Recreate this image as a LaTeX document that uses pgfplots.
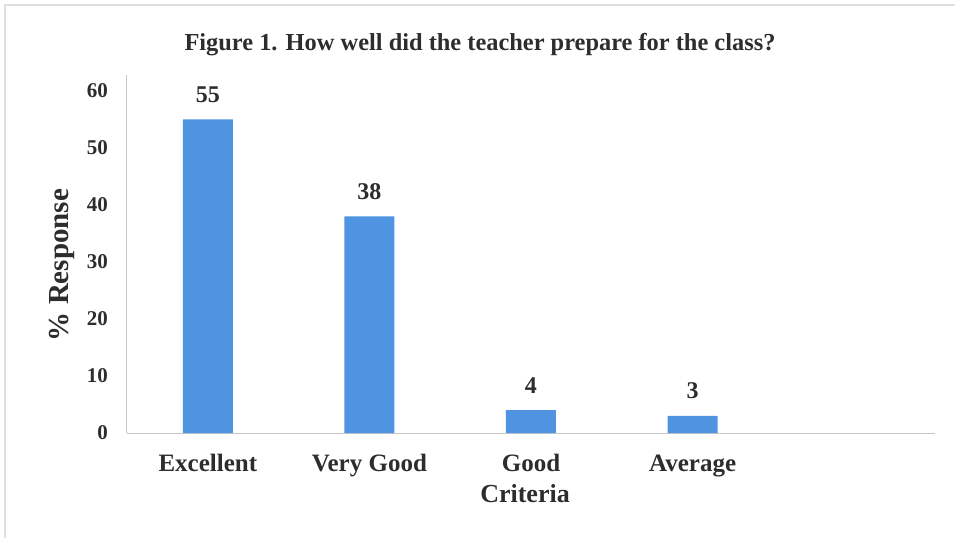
\documentclass[border=0pt]{standalone}
\usepackage{pgfplots}
\pgfplotsset{compat=1.18}
\usepackage{fontspec}
\setmainfont{Liberation Serif}
\definecolor{barblue}{RGB}{79,148,224}
\definecolor{txt}{RGB}{45,45,45}
\begin{document}
\begin{tikzpicture}
\path[use as bounding box] (-63.5pt,-52pt) rectangle (414pt,216.5pt);
\draw[gray!25, line width=0.6pt] (-61pt,-56pt) rectangle (418pt,214pt);
\begin{axis}[
  at={(0pt,0pt)}, anchor=south west,
  scale only axis, width=404pt, height=179pt,
  xmin=-0.5, xmax=4.5, ymin=0, ymax=62.8,
  axis x line=bottom, axis y line=left,
  axis line style={gray!45, line width=0.5pt, -},
  xtick={0,1,2,3}, xticklabels={Excellent,Very Good,Good,Average},
  ytick={0,10,20,30,40,50,60},
  major tick length=0pt,
  tick label style={font=\fontsize{10.5}{12}\selectfont\bfseries, text=txt},
  /pgf/number format/assume math mode=true,
  xticklabel style={font=\fontsize{12.5}{14}\selectfont\bfseries, anchor=base, yshift=-19pt},
  yticklabel style={xshift=-6pt},
  ylabel={\% Response},
  ylabel style={font=\fontsize{14.5}{16}\selectfont\bfseries, text=txt, at={(axis description cs:-0.0804,0.469)}, anchor=center},
  xlabel={Criteria},
  xlabel style={font=\fontsize{13}{15}\selectfont\bfseries, text=txt, at={(axis description cs:0.4926,-0.17)}, anchor=center},
  ybar, bar width=25pt,
  nodes near coords,
  nodes near coords style={font=\fontsize{12}{14}\selectfont\bfseries, text=txt, yshift=5pt},
  clip=false,
]
\addplot[fill=barblue, draw=none] coordinates {(0,55) (1,38) (2,4) (3,3)};
\end{axis}
\node[font=\fontsize{12.2}{14}\selectfont\bfseries, text=txt] at (176.5pt,194pt) {Figure 1. How well did the teacher prepare for the class?};
\end{tikzpicture}
\end{document}
